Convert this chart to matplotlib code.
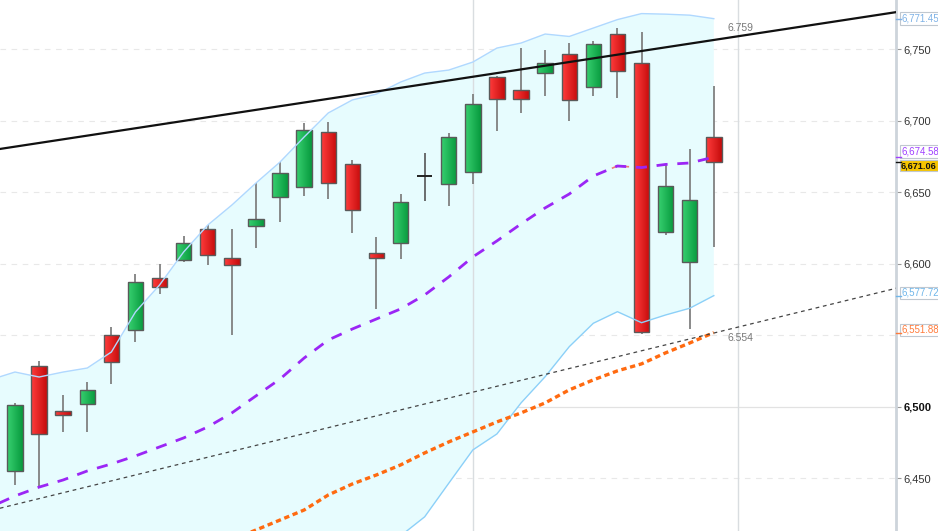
import numpy as np
import matplotlib
matplotlib.use("Agg")
import matplotlib.pyplot as plt
import matplotlib.transforms as mtransforms
from matplotlib.colors import LinearSegmentedColormap
from matplotlib.patches import Rectangle
from matplotlib.lines import Line2D

plt.rcParams['font.family'] = ['Liberation Sans', 'DejaVu Sans']

# candles
opens = [6455.3, 6528.5, 6497.3, 6502.2, 6550.0, 6553.9, 6590.3, 6602.9, 6624.1, 6604.3,
         6626.2, 6646.5, 6653.9, 6692.0, 6669.8, 6607.8, 6614.8, 6661.4, 6655.8, 6664.4,
         6730.8, 6721.7, 6733.6, 6746.5, 6723.4, 6760.5, 6740.2, 6622.0, 6601.5, 6688.7]
closes = [6501.3, 6481.0, 6494.3, 6511.5, 6531.5, 6587.1, 6584.0, 6614.8, 6606.2, 6599.4,
          6631.5, 6663.7, 6693.4, 6656.3, 6637.8, 6604.0, 6643.2, 6661.4, 6688.5, 6711.5,
          6715.0, 6715.0, 6740.2, 6714.3, 6753.7, 6735.0, 6552.1, 6654.6, 6644.4, 6671.06]
highs = [6502.5, 6532.0, 6508.3, 6517.6, 6555.6, 6592.7, 6599.7, 6619.4, 6627.1, 6624.3,
         6656.7, 6671.4, 6698.7, 6699.0, 6672.6, 6619.0, 6649.0, 6677.3, 6691.3, 6718.5,
         6731.0, 6750.7, 6749.5, 6754.6, 6756.0, 6764.7, 6762.3, 6669.1, 6680.5, 6724.1]
lows = [6445.3, 6443.7, 6482.6, 6482.2, 6515.7, 6545.1, 6578.7, 6601.0, 6599.2, 6550.2,
        6610.8, 6629.4, 6647.4, 6645.1, 6621.3, 6568.6, 6603.6, 6644.1, 6640.4, 6655.8,
        6692.9, 6705.2, 6717.3, 6699.9, 6717.3, 6715.7, 6550.7, 6620.1, 6554.2, 6611.7]

# bollinger bands, first value is the bar before the first visible candle
band_upper = [6519.0, 6524.3, 6520.8, 6524.3, 6527.1, 6538.3, 6566.3, 6585.2, 6608.3, 6627.1,
              6641.1, 6656.5, 6671.2, 6688.7, 6705.5, 6714.6, 6718.7, 6727.1, 6733.4, 6735.5,
              6741.1, 6750.9, 6754.4, 6760.7, 6759.0, 6764.9, 6770.8, 6775.0, 6774.6, 6773.9,
              6771.45]
band_mid = [6430.0, 6437.6, 6443.8, 6448.8, 6455.1, 6460.0, 6465.6, 6471.9, 6478.2, 6485.9,
            6495.7, 6507.6, 6519.4, 6534.1, 6546.7, 6554.4, 6561.4, 6568.4, 6578.2, 6590.8,
            6604.8, 6616.0, 6627.9, 6639.1, 6648.8, 6661.4, 6668.4, 6667.3, 6669.5, 6670.5,
            6674.58]
band_lower = [6340.0, 6350.9, 6366.8, 6373.3, 6383.1, 6381.7, 6364.9, 6358.6, 6348.1, 6344.7,
              6350.3, 6358.7, 6367.6, 6379.5, 6387.9, 6394.2, 6404.1, 6409.7, 6423.0, 6446.5,
              6469.8, 6481.0, 6502.7, 6521.0, 6542.0, 6558.4, 6566.5, 6558.8, 6564.2, 6568.9,
              6577.72]

# slower moving average, starts at candle 10
ma_slow = [6407.0, 6413.8, 6420.8, 6427.8, 6438.3, 6446.0, 6452.3, 6459.3, 6467.7, 6475.4,
           6482.4, 6489.4, 6495.7, 6502.7, 6511.8, 6518.8, 6525.1, 6530.0, 6537.7, 6544.6,
           6551.88]

# trend lines, endpoints at the plot edges
trend_x = [-0.63, 36.6]
trend_res = [6680.3, 6776.1]
trend_sup = [6429.0, 6583.0]

yticks = [6450, 6500, 6550, 6600, 6650, 6700, 6750]
shown_ticks = [6450, 6500, 6600, 6650, 6700, 6750]

n = len(opens)
xs = np.arange(n)
bx = np.arange(-1, n)
mx = np.arange(n - len(ma_slow), n)

fig = plt.figure(figsize=(9.38, 5.31), dpi=100)
ax = fig.add_axes([0, 0, 896 / 938, 1])

# grid
for t in yticks:
    if t == 6500:
        ax.axhline(t, color="#e2e2e2", lw=0.9, zorder=0.5)
    else:
        ax.axhline(t, color="#e8e8e8", lw=0.8, ls=(0, (5, 5)), zorder=0.5)

# band fill + edges
ax.fill_between(bx, band_lower, band_upper, color="#e7fcfe", lw=0, zorder=1)
for xv in [19, 30]:
    ax.axvline(xv, color="#d9dde0", lw=1, zorder=1.2)
ax.plot(bx, band_upper, color="#b0d8ff", lw=1, zorder=5)
ax.plot(bx, band_lower, color="#8cd0f8", lw=1, zorder=5)

# candles
red_cm = LinearSegmentedColormap.from_list("r", ["#ff3c3c", "#c60c0c"])
green_cm = LinearSegmentedColormap.from_list("g", ["#38d070", "#079a3e"])
grad = np.linspace(0, 1, 32).reshape(1, -1)
w = 0.64
for i in range(n):
    o, c, h, l = opens[i], closes[i], highs[i], lows[i]
    if c == o:
        ax.vlines(xs[i], l, h, color="#555555", lw=1.2, zorder=3.5)
        ax.hlines(c, xs[i] - w / 2, xs[i] + w / 2, color="#222222", lw=1.4, zorder=4)
        continue
    ax.vlines(xs[i], l, h, color="#808080", lw=1.3, zorder=3.5)
    lo, hi = min(o, c), max(o, c)
    cm = green_cm if c > o else red_cm
    im = ax.imshow(grad, cmap=cm, aspect="auto", interpolation="bilinear",
                   extent=(xs[i] - w / 2, xs[i] + w / 2, lo, hi), zorder=4)
    rect = Rectangle((xs[i] - w / 2, lo), w, hi - lo, fc="none", ec="#5a5a5a", lw=1, zorder=4.1)
    ax.add_patch(rect)
    im.set_clip_path(rect)

# moving averages
ax.plot(bx, band_mid, color="#9b26f5", lw=2, dashes=(4, 3.5), zorder=6)
seg = np.linspace(24.8, 25.45, 5)
ax.plot(seg, np.interp(seg, bx, band_mid), color="#f07a7a", lw=1.2, zorder=5.9)
ax.plot(mx, ma_slow, color="#ff6a10", lw=2.4, dashes=(1.6, 1.1), zorder=6)

# trend lines
ax.plot(trend_x, trend_res, color="#111111", lw=1.6, zorder=6.5)
ax.plot(trend_x, trend_sup, color="#444444", lw=0.9, dashes=(3, 3), zorder=6.5)
ax.text(29.55, np.interp(29.55, trend_x, trend_res) + 7, "6.759", color="#777777",
        fontsize=7.5, va="center", ha="left", zorder=7)
ax.text(29.55, np.interp(29.55, trend_x, trend_sup) - 6, "6.554", color="#777777",
        fontsize=7.5, va="center", ha="left", zorder=7)

ax.set_xlim(-0.622, 36.56)
ax.set_ylim(6413.1, 6784.5)

# axes styling
for s in ["top", "left", "bottom"]:
    ax.spines[s].set_visible(False)
ax.spines["right"].set_color("#cdd4db")
ax.spines["right"].set_linewidth(2)
ax.set_xticks([])
ax.yaxis.tick_right()
ax.set_yticks(shown_ticks)
ax.set_yticklabels([f"{t:,}" for t in shown_ticks])
ax.tick_params(axis="y", length=3.5, width=0.8, color="#999999", pad=2,
               labelsize=8, labelcolor="#333333")
for lab in ax.get_yticklabels():
    if lab.get_text() == "6,500":
        lab.set_fontweight("bold")
        lab.set_color("#111111")

# price tags on the right
tr = mtransforms.blended_transform_factory(fig.transFigure, ax.transData)
x0 = 896 / 938
tags = [
    (band_upper[-1], 0, "#7fb2e6", "white", "normal", 7),
    (band_mid[-1], 4, "#a040ff", "white", "normal", 7),
    (closes[-1], -2.5, "#111111", "#f5c400", "bold", 6.6),
    (band_lower[-1], 2, "#6fb6ea", "white", "normal", 7),
    (ma_slow[-1], 2, "#ff7a3a", "white", "normal", 7),
]
for val, dy, col, bg, fw, fs in tags:
    fig.lines.append(Line2D([x0, x0 + 5 / 938], [val, val], transform=tr, color=col, lw=1))
    ax.annotate(f"{val:,.2f}", xy=(901 / 938, val), xycoords=tr,
                xytext=(0, dy), textcoords="offset points", fontsize=fs, color=col,
                fontweight=fw, va="center", ha="left", annotation_clip=False,
                bbox=dict(boxstyle="square,pad=0.12", fc=bg, ec="#c0c8d0", lw=0.8))

fig.savefig("out.png", dpi=100)
